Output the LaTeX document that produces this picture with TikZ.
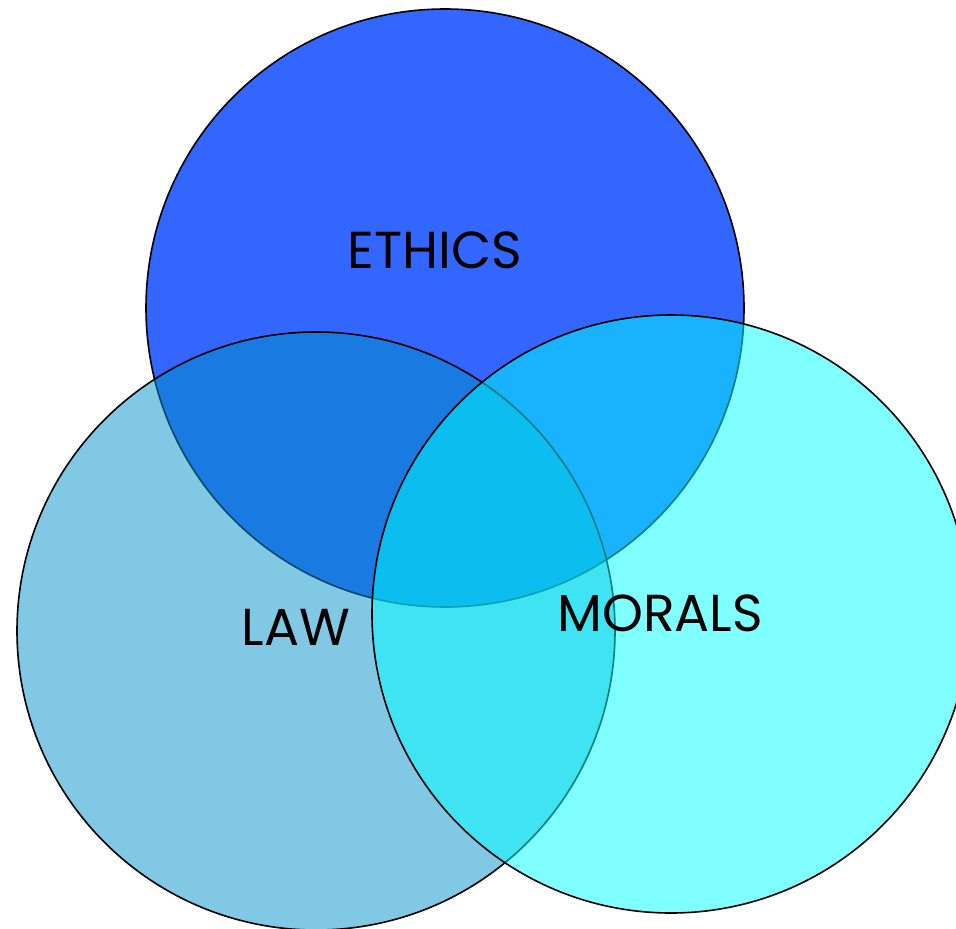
\documentclass[tikz,border=0pt]{standalone}
\usepackage{fontspec}
\setmainfont{Poppins}
\definecolor{ethicsblue}{HTML}{3366FF}
\definecolor{lawblue}{HTML}{0191C7}
\definecolor{moralscyan}{HTML}{00FFFF}

\begin{document}
\begin{tikzpicture}[x=1pt, y=-1pt,
  ring/.style={draw=black, line width=1.6pt},
  venntext/.style={inner sep=0pt, font=\fontsize{52}{62}\selectfont}]

% Fix the page size
\useasboundingbox (0,0) rectangle (956,929);

% Define the centres of the circles
\coordinate (E) at (445,308);
\coordinate (L) at (316,631);
\coordinate (M) at (671,614);

% Draw the circles, lowest first
\draw[ring, fill=ethicsblue] (E) circle [radius=299pt];
\draw[ring, fill=lawblue, fill opacity=0.5] (L) circle [radius=299pt];
\draw[ring, fill=moralscyan, fill opacity=0.5] (M) circle [radius=299pt];

% Add the names
\node[venntext] (ethics) at (435,250) {ETHICS};
\node[venntext] (law) at (296,627) {LAW};
\node[venntext] (morals) at (660,613) {MORALS};

\end{tikzpicture}
\end{document}
